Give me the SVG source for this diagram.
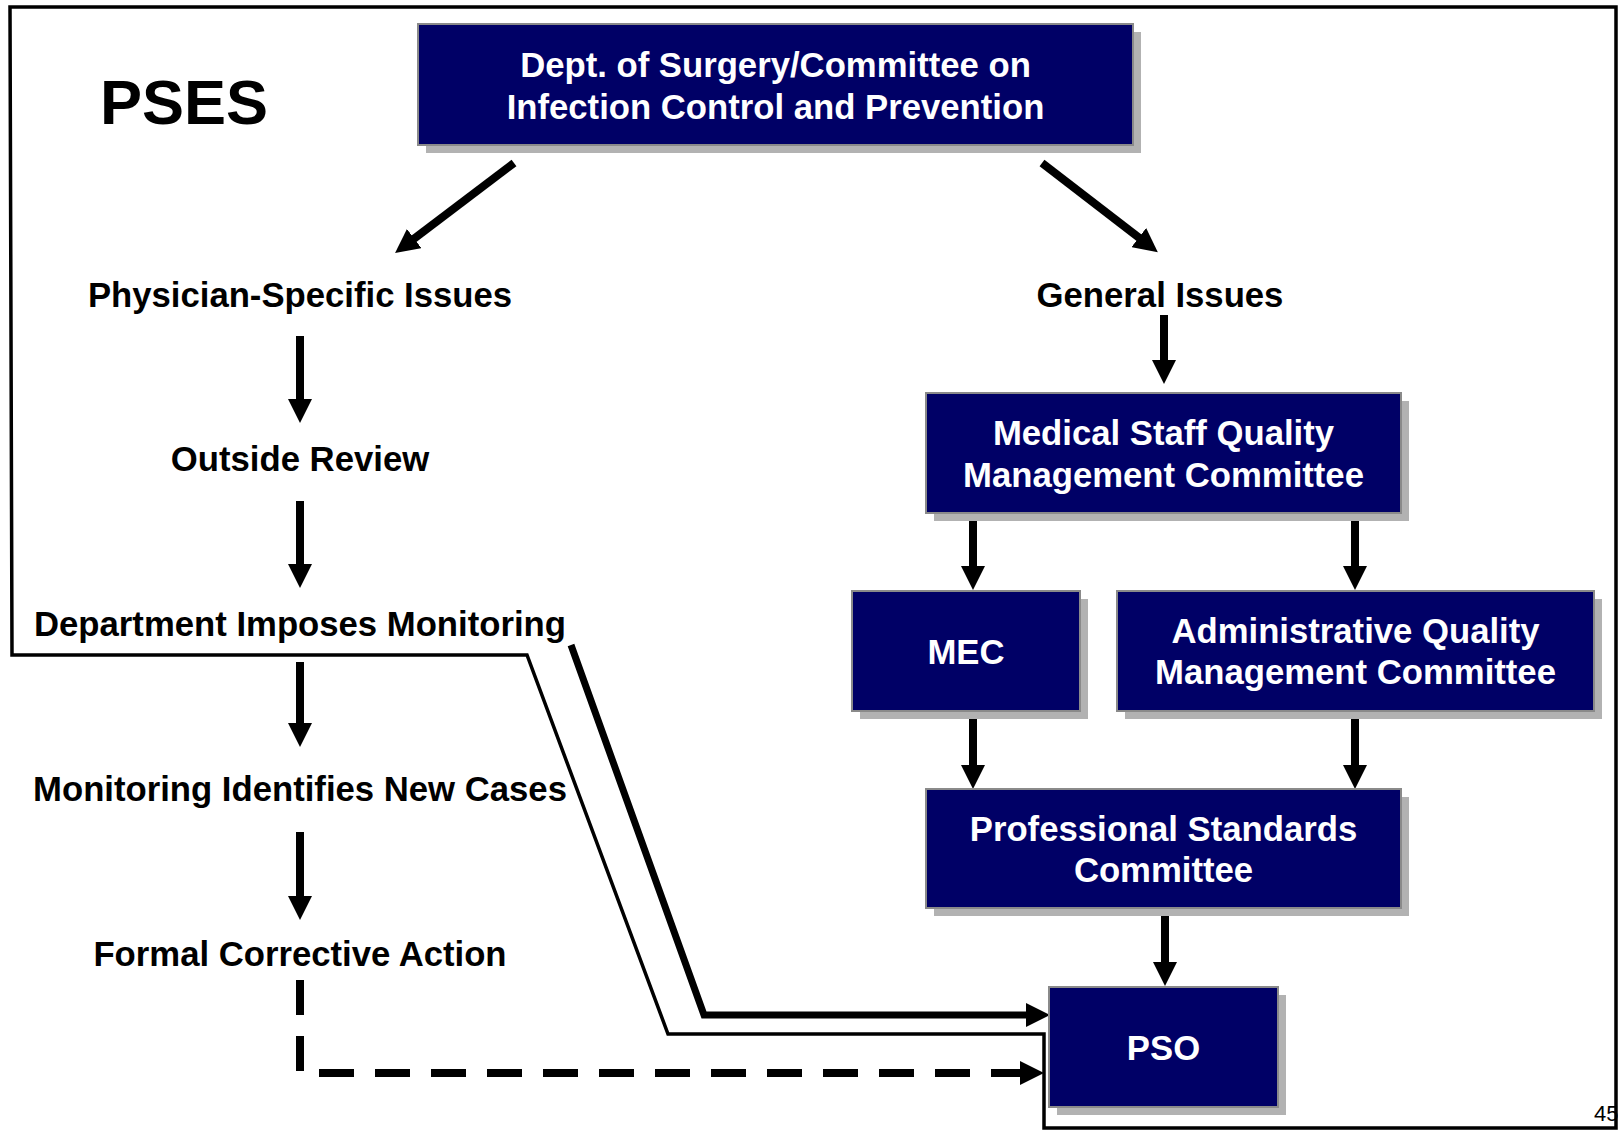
<svg xmlns="http://www.w3.org/2000/svg" width="1618" height="1131" viewBox="0 0 1618 1131">
<style>
  .box { fill: #000066; stroke: #8a8a8a; stroke-width: 2; }
  .shadow { fill: #b2b2b2; }
  .bt { font-family: "Liberation Sans", Arial, sans-serif; font-weight: bold; font-size: 34.7px; fill: #ffffff; text-anchor: middle; }
  .lbl { font-family: "Liberation Sans", Arial, sans-serif; font-weight: bold; font-size: 34.7px; fill: #000000; text-anchor: middle; }
  .title { font-family: "Liberation Sans", Arial, sans-serif; font-weight: bold; font-size: 63px; fill: #000000; }
  .pg { font-family: "Liberation Sans", Arial, sans-serif; font-size: 22px; fill: #000000; }
  .arr { fill: none; stroke: #000000; stroke-width: 8; marker-end: url(#ah); }
  .thick { fill: none; stroke: #000000; stroke-width: 7; stroke-linejoin: miter; marker-end: url(#ah); }
  .dash { fill: none; stroke: #000000; stroke-width: 8; stroke-dasharray: 35 21; marker-end: url(#ah); }
  .outline { fill: none; stroke: #000000; stroke-width: 3.5; stroke-linejoin: miter; }
</style>
<defs>
  <marker id="ah" markerUnits="userSpaceOnUse" markerWidth="24" markerHeight="24" refX="4" refY="12" orient="auto">
    <path d="M0,0 L24,12 L0,24 Z" fill="#000000"/>
  </marker>
</defs>
<rect width="1618" height="1131" fill="#ffffff"/>

<g id="pses-region">
  <polygon class="outline" points="10,7 1616,7 1616,1128 1044,1128 1044,1034 668,1034 527,655 12,655"/>
  <text class="title" x="100" y="124">PSES</text>
</g>

<g id="connectors">
  <line class="arr" x1="514" y1="163" x2="411" y2="241"/>
  <line class="arr" x1="1042" y1="163" x2="1142" y2="240"/>
  <line class="arr" x1="1164" y1="315" x2="1164" y2="364"/>
  <line class="arr" x1="300" y1="336" x2="300" y2="403"/>
  <line class="arr" x1="300" y1="501" x2="300" y2="568"/>
  <line class="arr" x1="300" y1="662" x2="300" y2="727"/>
  <line class="arr" x1="300" y1="832" x2="300" y2="900"/>
  <line class="arr" x1="973" y1="518" x2="973" y2="570"/>
  <line class="arr" x1="1355" y1="518" x2="1355" y2="570"/>
  <line class="arr" x1="973" y1="717" x2="973" y2="769"/>
  <line class="arr" x1="1355" y1="717" x2="1355" y2="769"/>
  <line class="arr" x1="1165" y1="913" x2="1165" y2="966"/>
  <polyline class="thick" points="571,645 704,1015 1030,1015"/>
  <polyline class="dash" points="300,980 300,1073 1024,1073"/>
</g>

<g id="node-dept">
  <rect class="shadow" x="426" y="32" width="715" height="121"/>
  <rect class="box" x="418" y="24" width="715" height="121"/>
  <text class="bt" x="775.5" y="77">Dept. of Surgery/Committee on</text>
  <text class="bt" x="775.5" y="119">Infection Control and Prevention</text>
</g>

<g id="node-physician">
  <text class="lbl" x="300" y="307">Physician-Specific Issues</text>
</g>
<g id="node-outside">
  <text class="lbl" x="300" y="471">Outside Review</text>
</g>
<g id="node-dept-monitoring">
  <text class="lbl" x="300" y="636">Department Imposes Monitoring</text>
</g>
<g id="node-new-cases">
  <text class="lbl" x="300" y="801">Monitoring Identifies New Cases</text>
</g>
<g id="node-formal">
  <text class="lbl" x="300" y="966">Formal Corrective Action</text>
</g>
<g id="node-general">
  <text class="lbl" x="1160" y="307">General Issues</text>
</g>

<g id="node-msqmc">
  <rect class="shadow" x="934" y="401" width="475" height="120"/>
  <rect class="box" x="926" y="393" width="475" height="120"/>
  <text class="bt" x="1163.5" y="445">Medical Staff Quality</text>
  <text class="bt" x="1163.5" y="487">Management Committee</text>
</g>

<g id="node-mec">
  <rect class="shadow" x="860" y="599" width="228" height="120"/>
  <rect class="box" x="852" y="591" width="228" height="120"/>
  <text class="bt" x="966" y="664">MEC</text>
</g>

<g id="node-aqmc">
  <rect class="shadow" x="1125" y="599" width="477" height="120"/>
  <rect class="box" x="1117" y="591" width="477" height="120"/>
  <text class="bt" x="1355.5" y="643">Administrative Quality</text>
  <text class="bt" x="1355.5" y="684">Management Committee</text>
</g>

<g id="node-psc">
  <rect class="shadow" x="934" y="797" width="475" height="119"/>
  <rect class="box" x="926" y="789" width="475" height="119"/>
  <text class="bt" x="1163.5" y="841">Professional Standards</text>
  <text class="bt" x="1163.5" y="882">Committee</text>
</g>

<g id="node-pso">
  <rect class="shadow" x="1057" y="995" width="229" height="120"/>
  <rect class="box" x="1049" y="987" width="229" height="120"/>
  <text class="bt" x="1163.5" y="1060">PSO</text>
</g>

<text class="pg" x="1594" y="1121">45</text>
</svg>
